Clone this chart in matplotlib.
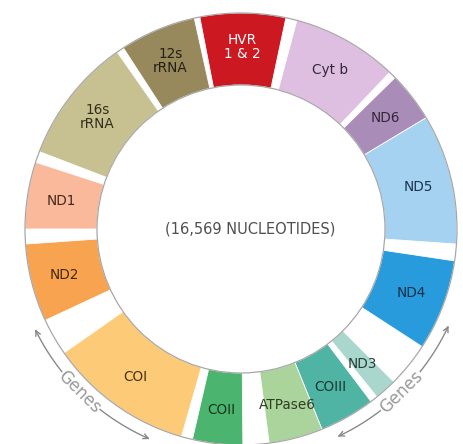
import numpy as np
import matplotlib
matplotlib.use("Agg")
import matplotlib.pyplot as plt
from matplotlib.patches import Wedge, Circle

# Mitochondrial genome ring, segments clockwise from 12 o'clock (degrees)
labels = ["HVR\n1 & 2", "Cyt b", "ND6", "ND5", "ND4", "ND3", "COIII",
          "ATPase6", "COII", "COI", "ND2", "ND1", "16s\nrRNA", "12s\nrRNA"]
start_deg = [-11, 15, 45.5, 59, 98.5, 135, 143, 158, 179.5, 196, 245, 270, 291, 327]
end_deg = [12, 43.5, 59, 94, 123, 141, 158, 172.5, 193, 235, 266, 288, 325, 347.5]
colors = ["#CC1820", "#DEBEE1", "#AA8CB9", "#A5D2F0", "#289BDC", "#AAD7CD", "#50B4A5",
          "#AAD49B", "#4BB46E", "#FDCB78", "#F8A350", "#FAB99B", "#C7C091", "#98895D"]
text_colors = ["white", "#33283a", "#33283a", "#1a3450", "#163048", "#263f3a", "#173632",
               "#2f3d26", "#17361f", "#42300c", "#42290c", "#42291a", "#33301a", "#24200f"]

center_text = "(16,569 NUCLEOTIDES)"
arrow_label = "Genes"
# curved "Genes" arrows: (arc start, text from, text to, arc end) in degrees
left_arrow = [244, 231.5, 218, 203.5]
right_arrow = [115, 128.5, 142.5, 155]

cx, cy = 241, 229
r_out, r_in = 216, 144

fig = plt.figure(figsize=(4.64, 4.44), dpi=100)
ax = fig.add_axes([0, 0, 1, 1])
ax.set_xlim(0, 464)
ax.set_ylim(444, 0)
ax.set_aspect("equal")
ax.axis("off")


def pt(theta, r):
    t = np.radians(theta)
    return cx + r * np.sin(t), cy - r * np.cos(t)


# white ring background with grey rims
ax.add_patch(Wedge((cx, cy), r_out, 0, 360, width=r_out - r_in, facecolor="white",
                   edgecolor="none"))
for rad in (r_out, r_in):
    ax.add_patch(Circle((cx, cy), rad, fill=False, edgecolor="#a8a8a8", lw=0.9, zorder=3))

for lab, a, b, col, tc in zip(labels, start_deg, end_deg, colors, text_colors):
    ax.add_patch(Wedge((cx, cy), r_out, a - 90, b - 90, width=r_out - r_in,
                       facecolor=col, edgecolor="white", lw=0.6, zorder=2))
    x, y = pt((a + b) / 2, 182)
    ax.text(x, y, lab, ha="center", va="center", fontsize=9.8, color=tc,
            linespacing=0.95, zorder=4)

ax.text(cx + 9, cy, center_text, ha="center", va="center", fontsize=10.5, color="#505050")

# "Genes" arrows
r_arr = 229
for a0, t0, t1, a1 in (left_arrow, right_arrow):
    for s, e in ((t0, a0), (t1, a1)):
        th = np.linspace(s, e, 40)
        xs, ys = pt(th, r_arr)
        ax.plot(xs[:-1], ys[:-1], color="#8a8a8a", lw=1.0)
        ax.annotate("", xy=(xs[-1], ys[-1]), xytext=(xs[-4], ys[-4]),
                    arrowprops=dict(arrowstyle="->", color="#8a8a8a", lw=1.0,
                                    mutation_scale=9, shrinkA=0, shrinkB=0))
    mid = (t0 + t1) / 2
    x, y = pt(mid, r_arr)
    ax.text(x, y, arrow_label, ha="center", va="center", fontsize=12, color="#9a9a9a",
            rotation=180 - mid, rotation_mode="anchor")

fig.savefig("out.png", dpi=100)
